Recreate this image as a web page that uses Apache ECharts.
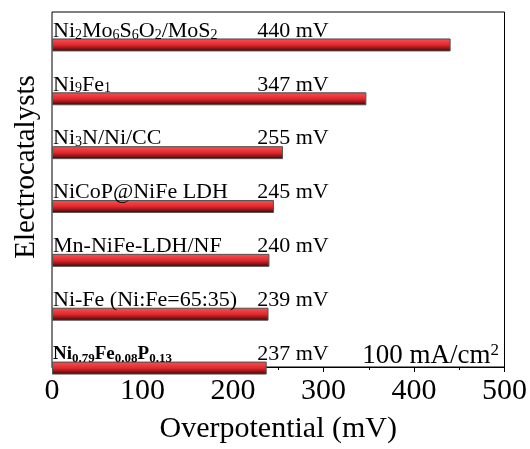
<!DOCTYPE html>
<html><head><meta charset="utf-8">
<script src="https://cdn.jsdelivr.net/npm/echarts@6/dist/echarts.min.js"></script>
<style>html,body{margin:0;padding:0;background:#fff}#c{width:530px;height:449px}</style>
</head><body><div id="c"></div>
<script>
// Categories (top to bottom), rich-text markup {s|...} marks subscripts
const categories = [
  'Ni{s|2}Mo{s|6}S{s|6}O{s|2}/MoS{s|2}',
  'Ni{s|9}Fe{s|1}',
  'Ni{s|3}N/Ni/CC',
  'NiCoP@NiFe LDH',
  'Mn-NiFe-LDH/NF',
  'Ni-Fe (Ni:Fe=65:35)',
  'Ni{s|0.79}Fe{s|0.08}P{s|0.13}'
];
const values = [440, 347, 255, 245, 240, 239, 237];
const unit = 'mV';
const xTickMin = 0, xTickMax = 500, xTickStep = 100;
const xAxisName = 'Overpotential (mV)';
const yAxisName = 'Electrocatalysts';
const noteText = '{a|100 mA/cm}{b|2}';

const FONT = 'Liberation Serif';
const VALUE_LABEL_X = 227;
const last = values.length - 1;

const grad = new echarts.graphic.LinearGradient(0, 0, 0, 1, [
  {offset: 0, color: '#b82828'},
  {offset: 0.12, color: '#f24a4a'},
  {offset: 0.5, color: '#e2282e'},
  {offset: 0.78, color: '#8c1414'},
  {offset: 1, color: '#1c0404'}
]);

const chart = echarts.init(document.getElementById('c'), null, {renderer: 'canvas'});
chart.setOption({
  animation: false,
  backgroundColor: '#fff',
  textStyle: {fontFamily: FONT, color: '#000'},
  grid: [
    {left: 52, right: 25, top: 12, bottom: 69, show: true, borderColor: '#000', borderWidth: 1, backgroundColor: 'transparent'},
    {left: 52, right: 25, top: 18, bottom: 54}
  ],
  xAxis: [
    {gridIndex: 0, type: 'value', min: xTickMin, max: xTickMax, interval: xTickStep,
     axisLine: {show: true, lineStyle: {color: '#000', width: 1}},
     axisTick: {show: true, inside: false, length: 5, lineStyle: {color: '#000'}},
     minorTick: {show: true, splitNumber: 2, length: 3, lineStyle: {color: '#000'}},
     splitLine: {show: false},
     axisLabel: {fontFamily: FONT, fontSize: 30, color: '#000', margin: 9},
     name: xAxisName, nameLocation: 'middle', nameGap: 47,
     nameTextStyle: {fontFamily: FONT, fontSize: 30, color: '#000'}},
    {gridIndex: 1, type: 'value', min: xTickMin, max: xTickMax, show: false}
  ],
  yAxis: [
    {gridIndex: 0, type: 'value', show: false},
    {gridIndex: 1, type: 'category', data: categories, inverse: true, show: false}
  ],
  series: [
    {
      type: 'bar', xAxisIndex: 1, yAxisIndex: 1, barWidth: 13,
      data: values.map((v, i) => ({value: v})),
      itemStyle: {color: grad, borderColor: '#555', borderWidth: 1},
      label: {
        show: true, position: [1, 3.5], align: 'left', verticalAlign: 'bottom',
        fontFamily: FONT, fontSize: 22, lineHeight: 22, color: '#000',
        formatter: p => p.dataIndex === last
          ? '{b|' + categories[p.dataIndex].replace(/\{s\|([^}]*)\}/g, '}{sb|$1}{b|') + '}'
          : categories[p.dataIndex],
        rich: {
          s: {fontFamily: FONT, fontSize: 14, lineHeight: 22, verticalAlign: 'bottom', color: '#000'},
          b: {fontFamily: FONT, fontSize: 19, fontWeight: 'bold', lineHeight: 22, color: '#000'},
          sb: {fontFamily: FONT, fontSize: 13, fontWeight: 'bold', lineHeight: 22, verticalAlign: 'bottom', color: '#000'}
        }
      }
    },
    {
      type: 'scatter', xAxisIndex: 1, yAxisIndex: 1, symbolSize: 1,
      itemStyle: {color: '#fff', opacity: 0},
      data: values.map((v, i) => [VALUE_LABEL_X, i]),
      label: {
        show: true, position: [0, -2.5], align: 'left', verticalAlign: 'bottom',
        fontFamily: FONT, fontSize: 22, lineHeight: 22, color: '#000', opacity: 1,
        fontWeight: 'normal',
        formatter: p => values[p.dataIndex] + ' ' + unit
      }
    }
  ],
  graphic: [
    {type: 'text', x: 26, y: 167, rotation: Math.PI / 2,
     style: {text: yAxisName, font: '29px "Liberation Serif"', fill: '#000', align: 'center', verticalAlign: 'middle'}},
    {type: 'text', x: 499, y: 369,
     style: {text: noteText, align: 'right', verticalAlign: 'bottom', fill: '#000',
       rich: {a: {fontFamily: FONT, fontSize: 27, lineHeight: 27, verticalAlign: 'bottom'},
              b: {fontFamily: FONT, fontSize: 17, lineHeight: 27, verticalAlign: 'top'}}}}
  ]
});
</script></body></html>
